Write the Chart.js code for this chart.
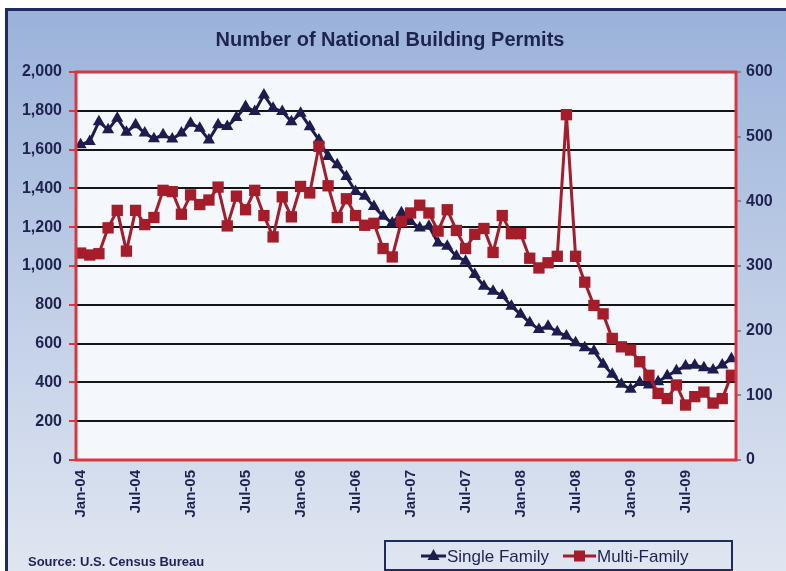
<!DOCTYPE html>
<html>
<head>
<meta charset="utf-8">
<style>
  html, body { margin: 0; padding: 0; background: #fff; }
  #wrap { width: 786px; height: 571px; position: relative; }
</style>
<script src="https://cdn.jsdelivr.net/npm/chart.js@4.4.0/dist/chart.umd.min.js"></script>
</head>
<body>
<div id="wrap"><canvas id="permits" width="786" height="571"></canvas></div>
<script>
// Month categories Jan-04 .. Dec-09
const monthNames = ['Jan', 'Feb', 'Mar', 'Apr', 'May', 'Jun', 'Jul', 'Aug', 'Sep', 'Oct', 'Nov', 'Dec'];
const years = ['04', '05', '06', '07', '08', '09'];
const categories = [];
years.forEach(y => monthNames.forEach(m => categories.push(m + '-' + y)));

// Single family permits (thousands, left axis)
const singleFamily = [
  1625, 1642, 1744, 1702, 1762, 1690, 1728, 1685, 1656, 1676, 1654, 1685,
  1736, 1710, 1650, 1728, 1719, 1765, 1822, 1796, 1882, 1813, 1796, 1744,
  1787, 1718, 1650, 1564, 1522, 1461, 1384, 1359, 1307, 1256, 1222, 1274,
  1230, 1196, 1205, 1119, 1102, 1050, 1025, 956, 896, 870, 848, 793,
  751, 708, 673, 690, 660, 639, 605, 579, 562, 494, 442, 391,
  365, 400, 386, 403, 434, 460, 485, 488, 476, 464, 490, 522
];

// Multi-family permits (thousands, right axis)
const multiFamily = [
  320, 317, 319, 359, 386, 323, 386, 364, 375, 417, 415, 380,
  410, 395, 402, 422, 362, 408, 387, 417, 378, 345, 407, 376,
  423, 413, 485, 424, 375, 404, 378, 363, 366, 327, 314, 369,
  382, 394, 382, 354, 387, 355, 327, 349, 358, 321, 378, 350,
  350, 312, 297, 305, 315, 534, 315, 275, 239, 226, 188, 175,
  170, 152, 131, 103, 95, 116, 85, 98, 105, 88, 95, 131
];

const NAVY = '#1D1C4E';
const RED = '#A51C2B';
const TEXT = '#1F2350';
const FONT = "'Liberation Sans', Arial, sans-serif";

const decor = {
  id: 'decor',
  beforeDraw(chart) {
    const ctx = chart.ctx;
    const { width, height } = chart;
    const a = chart.chartArea;
    ctx.save();
    ctx.fillStyle = '#fff';
    ctx.fillRect(0, 0, width, height);
    const g = ctx.createLinearGradient(0, 10, 0, height);
    g.addColorStop(0, '#9AB2DA');
    g.addColorStop(0.5, '#BFCDE6');
    g.addColorStop(1, '#DFE6F1');
    ctx.fillStyle = g;
    ctx.fillRect(6, 9, width, height);
    ctx.strokeStyle = '#1F2A5E';
    ctx.lineWidth = 3;
    ctx.beginPath();
    ctx.moveTo(6.5, height + 5);
    ctx.lineTo(6.5, 9.5);
    ctx.lineTo(width + 5, 9.5);
    ctx.stroke();
    // plot background
    ctx.fillStyle = '#F4F7FB';
    ctx.fillRect(a.left, a.top, a.right - a.left, a.bottom - a.top);
    ctx.restore();
  },
  afterDraw(chart) {
    const ctx = chart.ctx;
    const a = chart.chartArea;
    ctx.save();
    // red plot border
    ctx.strokeStyle = '#DA3640';
    ctx.lineWidth = 3;
    ctx.strokeRect(a.left, a.top, a.right - a.left, a.bottom - a.top);

    // title
    ctx.fillStyle = TEXT;
    ctx.font = 'bold 20px ' + FONT;
    ctx.textAlign = 'center';
    ctx.textBaseline = 'middle';
    ctx.fillText('Number of National Building Permits', 390, 40);

    // source
    ctx.textAlign = 'left';
    ctx.font = 'bold 13px ' + FONT;
    ctx.fillText('Source: U.S. Census Bureau', 28, 562);

    // legend box
    ctx.strokeStyle = '#1F2A5E';
    ctx.lineWidth = 2;
    ctx.strokeRect(385, 541, 347, 29);
    const ly = 556;
    ctx.lineWidth = 3;
    ctx.strokeStyle = NAVY;
    ctx.beginPath(); ctx.moveTo(421, ly); ctx.lineTo(446, ly); ctx.stroke();
    ctx.fillStyle = NAVY;
    ctx.beginPath();
    ctx.moveTo(433.5, ly - 7); ctx.lineTo(439.5, ly + 4); ctx.lineTo(427.5, ly + 4);
    ctx.closePath(); ctx.fill();
    ctx.strokeStyle = RED;
    ctx.beginPath(); ctx.moveTo(563, ly); ctx.lineTo(596, ly); ctx.stroke();
    ctx.fillStyle = RED;
    ctx.fillRect(574, ly - 5.5, 11, 11);
    ctx.fillStyle = TEXT;
    ctx.font = '17px ' + FONT;
    ctx.fillText('Single Family', 447, ly + 1);
    ctx.fillText('Multi-Family', 597, ly + 1);
    ctx.restore();
  }
};

const tickFont = { family: FONT, size: 16, weight: 'bold' };

new Chart(document.getElementById('permits'), {
  type: 'line',
  data: {
    labels: categories,
    datasets: [
      {
        label: 'Single Family',
        data: singleFamily,
        yAxisID: 'y',
        borderColor: NAVY,
        backgroundColor: NAVY,
        borderWidth: 3,
        pointStyle: 'triangle',
        pointRadius: 7,
        pointBorderWidth: 0,
        tension: 0,
        order: 2
      },
      {
        label: 'Multi-Family',
        data: multiFamily,
        yAxisID: 'y1',
        borderColor: RED,
        backgroundColor: RED,
        borderWidth: 3,
        pointStyle: 'rect',
        pointRadius: 8,
        pointBorderWidth: 0,
        tension: 0,
        order: 1
      }
    ]
  },
  options: {
    responsive: false,
    devicePixelRatio: 1,
    animation: false,
    layout: { padding: { top: 72, left: 0, right: 0, bottom: 0 } },
    plugins: {
      legend: { display: false },
      title: { display: false },
      tooltip: { enabled: false }
    },
    scales: {
      x: {
        type: 'category',
        offset: true,
        grid: { display: false, drawTicks: false },
        border: { display: false },
        ticks: {
          autoSkip: false,
          minRotation: 90,
          maxRotation: 90,
          padding: 10,
          color: TEXT,
          font: { family: FONT, size: 15, weight: 'bold' },
          callback: (v, i) => (i % 6 === 0 ? categories[i] : '')
        },
        afterFit: s => { s.height = 111; }
      },
      y: {
        position: 'left',
        min: 0,
        max: 2000,
        ticks: {
          stepSize: 200,
          padding: 7,
          color: TEXT,
          font: tickFont,
          callback: v => v.toLocaleString('en-US')
        },
        grid: { color: '#151515', lineWidth: 2, tickColor: '#DA3640', tickLength: 7 },
        border: { display: false },
        afterFit: s => { s.width = 76; }
      },
      y1: {
        position: 'right',
        min: 0,
        max: 600,
        ticks: { stepSize: 100, padding: 5, color: TEXT, font: tickFont },
        grid: { drawOnChartArea: false, tickColor: '#888', tickLength: 5, lineWidth: 2 },
        border: { display: true, color: '#888', width: 2 },
        afterFit: s => { s.width = 50; }
      }
    }
  },
  plugins: [decor]
});
</script>
</body>
</html>
